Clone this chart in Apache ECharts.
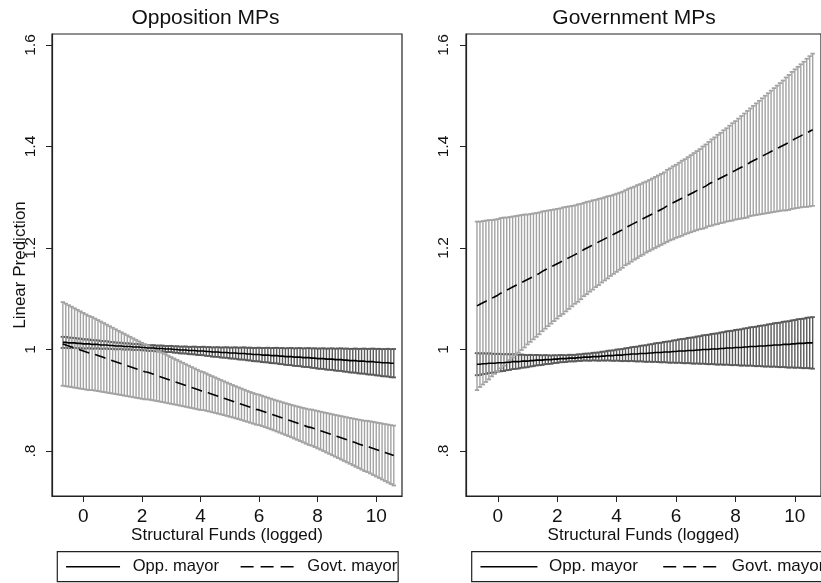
<!DOCTYPE html>
<html>
<head>
<meta charset="utf-8">
<script src="https://cdn.jsdelivr.net/npm/echarts@6/dist/echarts.min.js"></script>
<style>
  html, body { margin: 0; padding: 0; background: #fff; }
  #chart { width: 821px; height: 583px; }
</style>
</head>
<body>
<div id="chart"></div>
<script>
// Structural funds (logged) at which the predictions are evaluated
const fundsLogged = [
  -0.7,-0.6,-0.5,-0.4,-0.3,-0.2,-0.1,
  0,0.1,0.2,0.3,0.4,0.5,0.6,0.7,0.8,0.9,
  1,1.1,1.2,1.3,1.4,1.5,1.6,1.7,1.8,1.9,
  2,2.1,2.2,2.3,2.4,2.5,2.6,2.7,2.8,2.9,
  3,3.1,3.2,3.3,3.4,3.5,3.6,3.7,3.8,3.9,
  4,4.1,4.2,4.3,4.4,4.5,4.6,4.7,4.8,4.9,
  5,5.1,5.2,5.3,5.4,5.5,5.6,5.7,5.8,5.9,
  6,6.1,6.2,6.3,6.4,6.5,6.6,6.7,6.8,6.9,
  7,7.1,7.2,7.3,7.4,7.5,7.6,7.7,7.8,7.9,
  8,8.1,8.2,8.3,8.4,8.5,8.6,8.7,8.8,8.9,
  9,9.1,9.2,9.3,9.4,9.5,9.6,9.7,9.8,9.9,
  10,10.1,10.2,10.3,10.4,10.5,10.6
];

const xTicks = [0, 2, 4, 6, 8, 10];
const yTicks = [0.8, 1, 1.2, 1.4, 1.6];

// ---- Opposition MPs ----
// Opp. mayor: linear prediction and 95% CI half-width
const oppMPsOppMayorMean = [
  1.014,1.014,1.013,1.013,1.013,1.012,1.012,1.011,1.011,1.011,
  1.010,1.010,1.010,1.009,1.009,1.009,1.008,1.008,1.007,1.007,
  1.007,1.006,1.006,1.006,1.005,1.005,1.005,1.004,1.004,1.003,
  1.003,1.003,1.002,1.002,1.002,1.001,1.001,1.001,1.000,1.000,
  0.999,0.999,0.999,0.998,0.998,0.998,0.997,0.997,0.997,0.996,
  0.996,0.995,0.995,0.995,0.994,0.994,0.994,0.993,0.993,0.993,
  0.992,0.992,0.992,0.991,0.991,0.990,0.990,0.990,0.989,0.989,
  0.989,0.988,0.988,0.988,0.987,0.987,0.986,0.986,0.986,0.985,
  0.985,0.985,0.984,0.984,0.984,0.983,0.983,0.982,0.982,0.982,
  0.981,0.981,0.981,0.980,0.980,0.980,0.979,0.979,0.978,0.978,
  0.978,0.977,0.977,0.977,0.976,0.976,0.976,0.975,0.975,0.974,
  0.974,0.974,0.973,0.973
];
const oppMPsOppMayorHalf = [
  .0110,.0107,.0105,.0102,.0099,.0096,.0094,.0091,.0089,.0086,
  .0084,.0081,.0079,.0077,.0074,.0072,.0070,.0068,.0067,.0065,
  .0063,.0062,.0060,.0059,.0058,.0058,.0057,.0056,.0056,
  .0056,.0056,.0056,.0057,.0058,.0058,.0059,.0060,.0062,.0063,
  .0065,.0067,.0068,.0070,.0072,.0074,.0077,.0079,.0081,.0084,
  .0086,.0089,.0091,.0094,.0096,.0099,.0102,.0105,.0107,.0110,
  .0113,.0116,.0119,.0122,.0124,.0127,.0130,.0133,.0136,.0139,
  .0142,.0145,.0148,.0151,.0154,.0157,.0160,.0163,.0167,.0170,
  .0173,.0176,.0179,.0182,.0185,.0188,.0191,.0194,.0198,.0201,
  .0204,.0207,.0210,.0213,.0216,.0220,.0223,.0226,.0229,.0232,
  .0235,.0239,.0242,.0245,.0248,.0251,.0255,.0258,.0261,.0264,
  .0267,.0270,.0274,.0277,.0280
];
// Govt. mayor
const oppMPsGovMayorMean = [
  1.011,1.009,1.007,1.005,1.003,1.001,0.999,0.997,0.995,0.993,
  0.992,0.990,0.988,0.986,0.984,0.982,0.980,0.978,0.976,0.974,
  0.972,0.970,0.968,0.966,0.964,0.962,0.960,0.958,0.956,0.955,
  0.953,0.951,0.949,0.947,0.945,0.943,0.941,0.939,0.937,0.935,
  0.933,0.931,0.929,0.927,0.925,0.923,0.921,0.919,0.918,0.916,
  0.914,0.912,0.910,0.908,0.906,0.904,0.902,0.900,0.898,0.896,
  0.894,0.892,0.890,0.888,0.886,0.884,0.882,0.881,0.879,0.877,
  0.875,0.873,0.871,0.869,0.867,0.865,0.863,0.861,0.859,0.857,
  0.855,0.853,0.851,0.849,0.847,0.846,0.844,0.842,0.840,0.838,
  0.836,0.834,0.832,0.830,0.828,0.826,0.824,0.822,0.820,0.818,
  0.816,0.814,0.812,0.810,0.809,0.807,0.805,0.803,0.801,0.799,
  0.797,0.795,0.793,0.791
];
const oppMPsGovMayorHalf = [
  .0824,.0814,.0803,.0793,.0782,.0772,.0762,.0751,.0741,
  .0731,.0720,.0710,.0700,.0690,.0680,.0669,.0659,.0649,.0639,
  .0629,.0619,.0610,.0600,.0590,.0580,.0571,.0561,.0552,.0542,
  .0533,.0524,.0514,.0505,.0496,.0487,.0478,.0470,.0461,.0452,
  .0444,.0436,.0428,.0420,.0412,.0404,.0397,.0390,.0382,.0375,
  .0369,.0362,.0356,.0350,.0345,.0339,.0334,.0329,.0325,.0320,
  .0317,.0313,.0310,.0308,.0305,.0303,.0302,.0301,.0300,
  .0300,.0300,.0301,.0302,.0303,.0305,.0308,.0310,.0313,.0317,
  .0320,.0325,.0329,.0334,.0339,.0345,.0350,.0356,.0362,.0369,
  .0375,.0382,.0390,.0397,.0404,.0412,.0420,.0428,.0436,.0444,
  .0452,.0461,.0470,.0478,.0487,.0496,.0505,.0514,.0524,.0533,
  .0542,.0552,.0561,.0571,.0580,.0590
];

// ---- Government MPs ----
const govMPsOppMayorMean = [
  0.971,0.971,0.972,0.972,0.973,0.973,0.973,0.974,0.974,0.974,
  0.975,0.975,0.976,0.976,0.976,0.977,0.977,0.977,0.978,0.978,
  0.979,0.979,0.979,0.980,0.980,0.980,0.981,0.981,0.982,0.982,
  0.982,0.983,0.983,0.983,0.984,0.984,0.985,0.985,0.985,0.986,
  0.986,0.986,0.987,0.987,0.988,0.988,0.988,0.989,0.989,0.989,
  0.990,0.990,0.991,0.991,0.991,0.992,0.992,0.992,0.993,0.993,
  0.994,0.994,0.994,0.995,0.995,0.995,0.996,0.996,0.997,0.997,
  0.997,0.998,0.998,0.998,0.999,0.999,1.000,1.000,1.000,1.001,
  1.001,1.001,1.002,1.002,1.003,1.003,1.003,1.004,1.004,1.004,
  1.005,1.005,1.006,1.006,1.006,1.007,1.007,1.007,1.008,1.008,
  1.009,1.009,1.009,1.010,1.010,1.010,1.011,1.011,1.012,1.012,
  1.012,1.013,1.013,1.013
];
const govMPsOppMayorHalf = [
  .0218,.0212,.0206,.0200,
  .0194,.0188,.0182,.0176,.0170,.0165,.0159,.0153,.0147,.0142,
  .0136,.0131,.0125,.0120,.0115,.0109,.0104,.0100,.0095,.0090,
  .0086,.0082,.0078,.0075,.0072,.0070,.0067,.0066,.0065,
  .0065,.0065,.0066,.0067,.0070,.0072,.0075,.0078,.0082,.0086,
  .0090,.0095,.0100,.0104,.0109,.0115,.0120,.0125,.0131,.0136,
  .0142,.0147,.0153,.0159,.0165,.0170,.0176,.0182,.0188,.0194,
  .0200,.0206,.0212,.0218,.0224,.0230,.0236,.0242,.0248,.0254,
  .0260,.0266,.0272,.0279,.0285,.0291,.0297,.0303,.0309,.0315,
  .0322,.0328,.0334,.0340,.0346,.0352,.0359,.0365,.0371,.0377,
  .0383,.0390,.0396,.0402,.0408,.0415,.0421,.0427,.0433,.0439,
  .0446,.0452,.0458,.0464,.0471,.0477,.0483,.0489,.0496,.0502,
  .0508
];
const govMPsGovMayorMean = [
  1.086,1.089,1.092,1.095,1.098,1.101,1.104,1.107,1.111,1.114,
  1.117,1.120,1.123,1.126,1.129,1.132,1.135,1.138,1.141,1.144,
  1.147,1.150,1.154,1.157,1.160,1.163,1.166,1.169,1.172,1.175,
  1.178,1.181,1.184,1.187,1.190,1.193,1.197,1.200,1.203,1.206,
  1.209,1.212,1.215,1.218,1.221,1.224,1.227,1.230,1.233,1.236,
  1.240,1.243,1.246,1.249,1.252,1.255,1.258,1.261,1.264,1.267,
  1.270,1.273,1.276,1.279,1.283,1.286,1.289,1.292,1.295,1.298,
  1.301,1.304,1.307,1.310,1.313,1.316,1.319,1.322,1.326,1.329,
  1.332,1.335,1.338,1.341,1.344,1.347,1.350,1.353,1.356,1.359,
  1.362,1.365,1.369,1.372,1.375,1.378,1.381,1.384,1.387,1.390,
  1.393,1.396,1.399,1.402,1.405,1.408,1.412,1.415,1.418,1.421,
  1.424,1.427,1.430,1.433
];
const govMPsGovMayorHalf = [
  .166,.163,.161,.159,.157,.154,.152,.150,.148,.146,
  .143,.141,.139,.137,.135,.133,.131,.128,.126,.124,
  .122,.120,.118,.116,.114,.112,.110,.108,.106,.105,
  .103,.101,.099,.097,.096,.094,.092,.091,.089,.088,
  .086,.085,.083,.082,.081,.079,.078,.077,.076,.075,
  .074,.074,.073,.072,.072,.071,.071,.070,.070,.070,
  .070,.070,.070,.070,.071,.071,.072,.072,.073,.074,
  .074,.075,.076,.077,.078,.079,.081,.082,.083,.085,
  .086,.088,.089,.091,.092,.094,.096,.097,.099,.101,
  .103,.105,.106,.108,.110,.112,.114,.116,.118,.120,
  .122,.124,.126,.128,.131,.133,.135,.137,.139,.141,
  .143,.146,.148,.150
];

const FONT = "'Liberation Sans', Arial, Helvetica, sans-serif";
const TEXT = '#111';
const AXIS = '#222';
const CI_OPP = '#5a5a5a';
const CI_GOV = '#a3a3a3';

// CI rows: [x, lower, upper]
function ciRows(mean, half) {
  return fundsLogged.map((x, i) => [x, +(mean[i] - half[i]).toFixed(4), +(mean[i] + half[i]).toFixed(4)]);
}

// Capped vertical interval bars
function ciSeries(axisIdx, mean, half, color) {
  return {
    type: 'custom',
    xAxisIndex: axisIdx,
    yAxisIndex: axisIdx,
    silent: true,
    animation: false,
    z: 2,
    data: ciRows(mean, half),
    encode: { x: 0, y: [1, 2] },
    renderItem(params, api) {
      const x = api.value(0);
      const lo = api.coord([x, api.value(1)]);
      const hi = api.coord([x, api.value(2)]);
      const cap = 2.2;
      const bar = { stroke: color, lineWidth: 1.4, fill: null };
      const capStyle = { stroke: color, lineWidth: 1.8, fill: null };
      return {
        type: 'group',
        children: [
          { type: 'line', shape: { x1: lo[0], y1: lo[1], x2: hi[0], y2: hi[1] }, style: bar },
          { type: 'line', shape: { x1: lo[0] - cap, y1: lo[1], x2: lo[0] + cap, y2: lo[1] }, style: capStyle },
          { type: 'line', shape: { x1: hi[0] - cap, y1: hi[1], x2: hi[0] + cap, y2: hi[1] }, style: capStyle }
        ]
      };
    }
  };
}

function meanSeries(name, axisIdx, mean, dashed) {
  return {
    type: 'line',
    name,
    xAxisIndex: axisIdx,
    yAxisIndex: axisIdx,
    symbol: 'none',
    showSymbol: false,
    silent: true,
    animation: false,
    z: 5,
    data: fundsLogged.map((x, i) => [x, mean[i]]),
    itemStyle: { color: '#000' },
    lineStyle: { color: '#000', width: 1.6, type: dashed ? [11, 6] : 'solid' }
  };
}

const tickLabel = v => (Math.abs(v) < 1 ? String(v).replace('0.', '.') : String(v));

function xAxisFor(gridIndex) {
  return {
    type: 'value', gridIndex, min: -1.07, max: 10.88,
    axisLine: { show: true, onZero: false, lineStyle: { color: AXIS, width: 1.2 } },
    axisTick: { show: true, length: 6, customValues: xTicks, lineStyle: { color: AXIS, width: 1 } },
    axisLabel: { customValues: xTicks, fontSize: 19, margin: 11, color: TEXT, fontFamily: FONT },
    splitLine: { show: false },
    name: 'Structural Funds (logged)', nameLocation: 'middle', nameGap: 31, nameMoveOverlap: false,
    nameTextStyle: { fontSize: 17, color: TEXT, fontFamily: FONT }
  };
}

function yAxisFor(gridIndex, withName, margin) {
  const ax = {
    type: 'value', gridIndex, min: 0.7113, max: 1.6217,
    axisLine: { show: true, onZero: false, lineStyle: { color: AXIS, width: 1.2 } },
    axisTick: { show: true, length: 6, customValues: yTicks, lineStyle: { color: AXIS, width: 1 } },
    axisLabel: { customValues: yTicks, rotate: 90, fontSize: 15.5, margin, color: TEXT, fontFamily: FONT, formatter: tickLabel },
    splitLine: { show: false }
  };
  if (withName) {
    Object.assign(ax, {
      name: 'Linear Prediction', nameLocation: 'middle', nameGap: 23, nameRotate: 90, nameMoveOverlap: false,
      nameTextStyle: { fontSize: 17, color: TEXT, fontFamily: FONT }
    });
  }
  return ax;
}

function legendFor(left, itemWidth, textPad, gap, fontSize) {
  const hidden = { color: 'rgba(0,0,0,0)', borderWidth: 0, opacity: 0 };
  return {
    left, top: 551.7, width: 420,
    orient: 'horizontal',
    selectedMode: false,
    itemWidth, itemHeight: 14, itemGap: gap,
    padding: [6, 1, 6, 8],
    borderColor: AXIS, borderWidth: 1.2, borderRadius: 0,
    backgroundColor: '#fff',
    textStyle: { fontSize, color: TEXT, fontFamily: FONT, lineHeight: 18, padding: [0, 0, 0, textPad] },
    data: [
      { name: 'Opp. mayor', itemStyle: hidden, lineStyle: { color: '#000', width: 1.5, type: 'solid' } },
      { name: 'Govt. mayor', itemStyle: hidden, lineStyle: { color: '#000', width: 1.5, type: [13, 7] } }
    ]
  };
}

const chart = echarts.init(document.getElementById('chart'), null, { renderer: 'canvas' });
chart.setOption({
  animation: false,
  backgroundColor: '#fff',
  textStyle: { fontFamily: FONT },
  title: [
    { text: 'Opposition MPs', left: 205.5, top: 8, textAlign: 'center', textVerticalAlign: 'top', padding: 0,
      textStyle: { fontSize: 21, fontWeight: 'normal', color: TEXT, fontFamily: FONT } },
    { text: 'Government MPs', left: 634, top: 8, textAlign: 'center', textVerticalAlign: 'top', padding: 0,
      textStyle: { fontSize: 21, fontWeight: 'normal', color: TEXT, fontFamily: FONT } }
  ],
  grid: [
    { left: 52, top: 34, width: 350, height: 462, show: true, borderColor: AXIS, borderWidth: 1.2, backgroundColor: '#fff' },
    { left: 466, top: 34, width: 363, height: 462, show: true, borderColor: AXIS, borderWidth: 1.2, backgroundColor: '#fff' }
  ],
  xAxis: [xAxisFor(0), xAxisFor(1)],
  yAxis: [yAxisFor(0, true, 13), yAxisFor(1, false, 14)],
  legend: [
    legendFor(57.3, 54, 7.7, 20.9, 16.5),
    legendFor(471.7, 57, 6.6, 24.6, 17)
  ],
  series: [
    ciSeries(0, oppMPsOppMayorMean, oppMPsOppMayorHalf, CI_OPP),
    ciSeries(0, oppMPsGovMayorMean, oppMPsGovMayorHalf, CI_GOV),
    ciSeries(1, govMPsOppMayorMean, govMPsOppMayorHalf, CI_OPP),
    ciSeries(1, govMPsGovMayorMean, govMPsGovMayorHalf, CI_GOV),
    meanSeries('Opp. mayor', 0, oppMPsOppMayorMean, false),
    meanSeries('Govt. mayor', 0, oppMPsGovMayorMean, true),
    meanSeries('Opp. mayor', 1, govMPsOppMayorMean, false),
    meanSeries('Govt. mayor', 1, govMPsGovMayorMean, true)
  ]
});
</script>
</body>
</html>
